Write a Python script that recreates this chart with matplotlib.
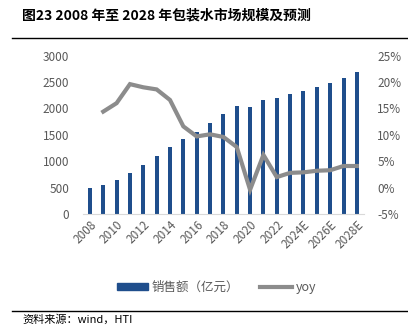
import matplotlib
matplotlib.use("Agg")
import matplotlib.pyplot as plt
from matplotlib.lines import Line2D
from matplotlib.patches import Patch
from matplotlib.ticker import FuncFormatter

plt.rcParams['font.family'] = ['Noto Sans CJK SC', 'DejaVu Sans']

# data
years = ['2008', '2009', '2010', '2011', '2012', '2013', '2014', '2015', '2016',
         '2017', '2018', '2019', '2020', '2021', '2022', '2023', '2024E',
         '2025E', '2026E', '2027E', '2028E']
sales = [485, 555, 643, 775, 926, 1096, 1279, 1424, 1563, 1727, 1897, 2042,
         2029, 2161, 2199, 2268, 2325, 2401, 2483, 2584, 2691]
yoy = [None, 14.4, 16.0, 19.6, 19.0, 18.6, 16.6, 11.6, 9.7, 10.1, 9.6, 7.7,
       -0.4, 6.2, 2.0, 2.8, 2.9, 3.2, 3.3, 4.1, 4.1]

bar_color = '#1F4E8C'
line_color = '#8C8C8C'
text_gray = '#595959'

fig = plt.figure(figsize=(4.08, 3.35), dpi=100)
ax = fig.add_axes([0.204, 0.361, 0.687, 0.473])

x = list(range(len(years)))
ax.bar(x, sales, width=0.3, color=bar_color, zorder=2)
ax.set_xlim(-0.5, len(years) - 0.5)
ax.set_ylim(0, 3000)
ax.set_yticks(range(0, 3001, 500))
ax.set_xticks(x[::2])
ax.set_xticklabels(years[::2], rotation=45, ha='right', rotation_mode='anchor')
ax.tick_params(axis='both', length=0, labelsize=8.5, colors=text_gray)
ax.tick_params(axis='y', pad=10)
ax.tick_params(axis='x', pad=3)
for s in ['top', 'right', 'left']:
    ax.spines[s].set_visible(False)
ax.spines['bottom'].set_color('#D9D9D9')

ax2 = ax.twinx()
xs = [i for i, v in zip(x, yoy) if v is not None]
ys = [v for v in yoy if v is not None]
ax2.plot(xs, ys, color=line_color, lw=3, solid_joinstyle='miter', zorder=3)
ax2.set_ylim(-5, 25)
ax2.set_yticks(range(-5, 26, 5))
ax2.yaxis.set_major_formatter(FuncFormatter(lambda v, p: f'{v:.0f}%'))
ax2.tick_params(axis='y', length=0, labelsize=8.5, colors=text_gray, pad=10)
for s in ['top', 'right', 'left', 'bottom']:
    ax2.spines[s].set_visible(False)

handles = [Patch(color=bar_color), Line2D([], [], color=line_color, lw=3)]
fig.legend(handles, ['销售额（亿元）', 'yoy'], loc='center', bbox_to_anchor=(0.53, 0.143),
           ncol=2, frameon=False, fontsize=9, labelcolor=text_gray,
           handlelength=2.5, handleheight=0.45, columnspacing=1.7, handletextpad=0.3)

fig.text(0.054, 0.955, '图23 2008 年至 2028 年包装水市场规模及预测', fontsize=10,
         fontweight='bold', va='center', ha='left')
fig.add_artist(Line2D([0.03, 1.0], [0.887, 0.887], color='black', lw=1))
fig.add_artist(Line2D([0.03, 1.0], [0.072, 0.072], color='black', lw=1))
fig.text(0.054, 0.045, '资料来源：wind，HTI', fontsize=8, va='center', ha='left')

fig.savefig('out.png', dpi=100)
